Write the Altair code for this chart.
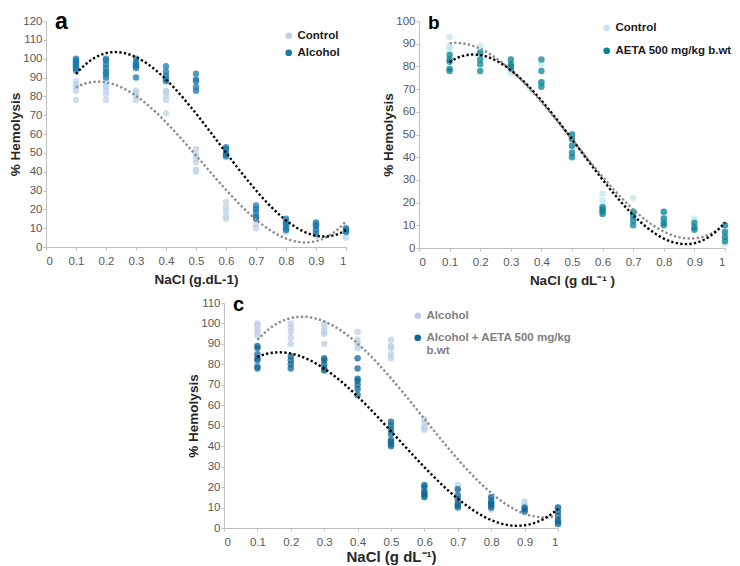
import altair as alt
import pandas as pd

NACL = [0.1, 0.2, 0.3, 0.4, 0.5, 0.6, 0.7, 0.8, 0.9, 1.0]
X_TICKS = [0, 0.1, 0.2, 0.3, 0.4, 0.5, 0.6, 0.7, 0.8, 0.9, 1.0]

# ---- panel a ----
a_control = [
    [93, 88, 86, 85, 83, 78],
    [88, 86, 85, 83, 81, 78],
    [83, 82, 80, 78],
    [83, 82, 80, 78, 71],
    [52, 49, 47, 45, 41, 40],
    [24, 21, 19, 16, 15],
    [20, 16, 12, 10],
    [13, 11, 10, 8],
    [12, 10, 8, 6],
    [9, 8, 5],
]
a_alcohol = [
    [100, 99, 98, 97, 96, 95, 94],
    [100, 99, 97, 95, 93, 92, 90],
    [100, 98, 97, 96, 95, 90],
    [96, 93, 91, 89, 88],
    [92, 89, 88, 85, 83],
    [53, 52, 50, 49, 48],
    [22, 20, 18, 16, 15],
    [15, 13, 12, 10, 9],
    [13, 12, 11, 9, 7],
    [10, 9, 8],
]
# ---- panel b ----
b_control = [
    [93, 89, 88, 86],
    [89, 87, 85],
    [83, 79, 77],
    [81, 73, 72],
    [50, 47, 44, 41],
    [24, 21, 19, 17],
    [22, 15, 13],
    [16, 14, 12],
    [13, 12, 10],
    [10, 8, 4, 2],
]
b_aeta = [
    [85, 83, 82, 79, 78],
    [86, 83, 81, 78],
    [83, 81, 80, 79],
    [83, 78, 73, 71],
    [50, 48, 45, 42, 40],
    [18, 17, 16, 15],
    [16, 14, 12, 10],
    [16, 13, 11, 10],
    [11, 9, 8],
    [10, 7, 5, 3],
]
# ---- panel c ----
c_alcohol = [
    [100, 99, 97, 96, 94],
    [100, 98, 96, 93, 90],
    [100, 98, 96, 95, 90],
    [96, 92, 90, 88],
    [92, 89, 88, 85, 83],
    [53, 51, 49, 48],
    [21, 19],
    [15, 13, 9],
    [13, 11],
    [10],
]
c_alcohol_aeta = [
    [89, 88, 85, 83, 82, 79, 78],
    [84, 82, 80, 78],
    [83, 82, 80, 78, 77],
    [83, 78, 73, 72, 70, 68, 65],
    [52, 50, 48, 46, 43, 42, 41, 40],
    [21, 20, 18, 17, 16, 15],
    [19, 16, 14, 12, 11, 10],
    [15, 13, 12, 11, 10],
    [10, 9, 8],
    [10, 8, 6, 4, 3, 2],
]

FONT = "Liberation Sans"


def frame(series):
    rows = []
    for name, vals in series:
        for x, ys in zip(NACL, vals):
            for y in ys:
                rows.append({"x": x, "y": y, "g": name})
    return pd.DataFrame(rows)


def panel(series, point_colors, ymax, ystep, xtitle, xtitle_size, xtitle_pad,
          letter, letter_size, legend_x, legend_y, legend_row_pad, legend_label_color,
          width, height, label_expr=None):
    names = [s[0] for s in series]
    df = frame(series)
    xenc = alt.X("x:Q", scale=alt.Scale(domain=[0, 1], nice=False),
                 axis=alt.Axis(values=X_TICKS, format=".1~f", title=xtitle,
                               titleFontSize=xtitle_size, titlePadding=xtitle_pad))
    yenc = alt.Y("y:Q", scale=alt.Scale(domain=[0, ymax], nice=False),
                 axis=alt.Axis(values=list(range(0, ymax + 1, ystep)), title="% Hemolysis"))
    leg = dict(orient="none", legendX=legend_x, legendY=legend_y, title=None,
               symbolType="circle", symbolSize=45, labelFont=FONT, labelFontSize=11.5,
               labelFontWeight="bold", labelColor=legend_label_color, rowPadding=legend_row_pad,
               labelLimit=260, symbolStrokeWidth=0, symbolOpacity=1, labelOffset=3)
    if label_expr:
        leg["labelExpr"] = label_expr
    points = alt.Chart(df).mark_circle(size=42, opacity=0.75).encode(
        x=xenc, y=yenc,
        color=alt.Color("g:N", scale=alt.Scale(domain=names, range=point_colors),
                        legend=alt.Legend(**leg), sort=names),
    )
    trend = alt.Chart(df).transform_regression(
        "x", "y", groupby=["g"], method="poly", order=3, extent=[0.1, 1.0]
    ).transform_calculate(gl="datum.g").mark_line(
        strokeDash=[2.3, 2.3], strokeWidth=2.4, strokeCap="butt"
    ).encode(
        x=xenc, y=yenc,
        stroke=alt.Stroke("gl:N", scale=alt.Scale(domain=names, range=["#8c8c8c", "#000000"]),
                          legend=None),
    )
    lab = alt.Chart(pd.DataFrame({"t": [letter]})).mark_text(
        font=FONT, fontSize=letter_size, fontWeight="bold", align="left",
        baseline="alphabetic", color="#000000"
    ).encode(text="t:N", x=alt.value(9), y=alt.value(8))
    return alt.layer(points, trend, lab).properties(width=width, height=height)


pa = panel([("Control", a_control), ("Alcohol", a_alcohol)],
           ["#bcd3ea", "#1878ad"], 120, 10, "NaCl (g.dL-1)", 13.5, 6, "a", 23,
           237, 9, 4, "#1a1a1a", 300, 226)
pb = panel([("Control", b_control), ("AETA 500 mg/kg b.wt", b_aeta)],
           ["#bfe8ef", "#0c8394"], 100, 10, "NaCl (g dL\u207b\u00b9 )", 13.5, 6, "b", 19,
           182, 1, 10, "#1a1a1a", 306, 227)
pc = panel([("Alcohol", c_alcohol), ("Alcohol + AETA 500 mg/kg b.wt", c_alcohol_aeta)],
           ["#b9d0e8", "#0d6794"], 110, 10, "NaCl (g dL\u207b\u00b9)", 15, 2, "c", 20,
           188, 7, 9, "#7f7f7f", 334, 225,
           label_expr="datum.label == 'Alcohol + AETA 500 mg/kg b.wt' ? ['Alcohol + AETA 500 mg/kg', 'b.wt'] : datum.label")

spacer = alt.Chart(pd.DataFrame({"t": [""]})).mark_text().encode(
    text="t:N").properties(width=120, height=10)

top = alt.hconcat(pa, pb, spacing=30).resolve_scale(
    color="independent", stroke="independent"
).resolve_legend(color="independent", stroke="independent")
bottom = alt.hconcat(spacer, pc, spacing=20).resolve_scale(
    color="independent", stroke="independent"
).resolve_legend(color="independent", stroke="independent")
chart = alt.vconcat(top, bottom, spacing=8).resolve_scale(
    color="independent", stroke="independent"
).resolve_legend(color="independent", stroke="independent").properties(
    padding={"left": 0, "top": 3, "right": 0, "bottom": 0}
).configure_view(stroke=None).configure_axis(
    grid=False, domainColor="#bfbfbf", tickColor="#bfbfbf", tickSize=3,
    labelFont=FONT, labelFontSize=11.5, labelColor="#595959", labelPadding=1,
    titleFont=FONT, titleFontSize=13.5, titleFontWeight="bold", titleColor="#262626",
    titlePadding=0,
).configure_axisX(labelPadding=5)

chart.save("out.html", embed_options={"renderer": "svg", "actions": False})
